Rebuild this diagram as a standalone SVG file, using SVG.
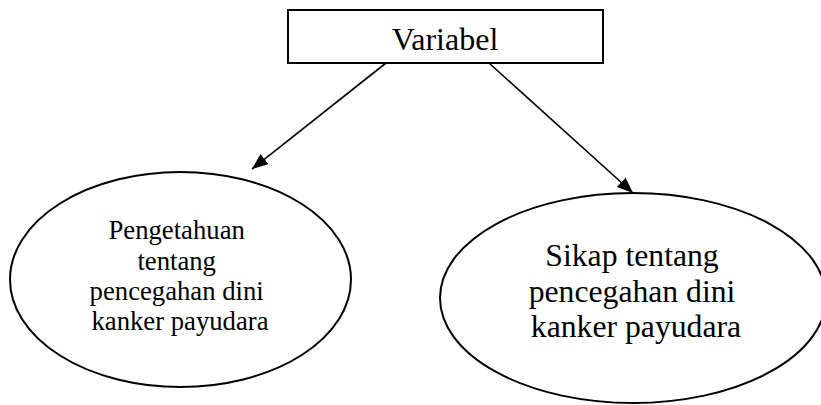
<svg xmlns="http://www.w3.org/2000/svg" width="821" height="405" viewBox="0 0 821 405">
<defs>
<marker id="arrow" markerUnits="userSpaceOnUse" markerWidth="18" markerHeight="14" refX="16" refY="6.5" orient="auto">
<path d="M0,0 L16,6.5 L0,13 z" fill="#000"/>
</marker>
</defs>
<style>
.shape{fill:#fff;stroke:#000;stroke-width:2}
.conn{stroke:#000;stroke-width:1.6;fill:none;marker-end:url(#arrow)}
text{font-family:"Liberation Serif","Times New Roman",serif;fill:#000;text-anchor:middle}
</style>
<rect width="821" height="405" fill="#fff"/>
<g id="connectors">
<line class="conn" x1="386" y1="63" x2="252" y2="169"/>
<line class="conn" x1="489" y1="63" x2="633" y2="193"/>
</g>
<g id="variabel">
<rect class="shape" x="288" y="10" width="315" height="53"/>
<text x="445" y="50" font-size="32">Variabel</text>
</g>
<g id="pengetahuan">
<ellipse class="shape" cx="180.5" cy="279.5" rx="170.5" ry="107.5"/>
<text font-size="26.7">
<tspan x="180" y="239">Pengetahuan</tspan>
<tspan x="180" y="269.5">tentang</tspan>
<tspan x="180" y="300">pencegahan dini</tspan>
<tspan x="180" y="330">kanker payudara</tspan>
</text>
</g>
<g id="sikap">
<ellipse class="shape" cx="633" cy="298" rx="193" ry="105"/>
<text font-size="31.7">
<tspan x="636" y="266">Sikap tentang</tspan>
<tspan x="636" y="302">pencegahan dini</tspan>
<tspan x="636" y="337">kanker payudara</tspan>
</text>
</g>
</svg>
